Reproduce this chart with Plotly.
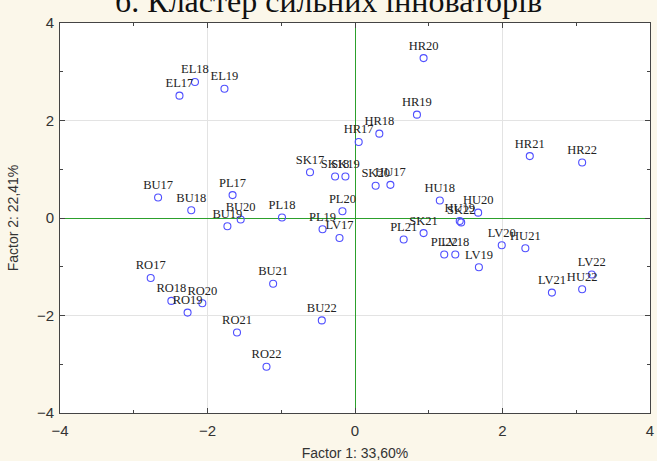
import plotly.graph_objects as go

labels = ["EL17", "EL18", "EL19", "HR17", "HR18", "HR19", "HR20", "HR21", "HR22",
          "SK17", "SK18", "SK19", "SK20", "SK21", "SK22",
          "HU17", "HU18", "HU19", "HU20", "HU21", "HU22",
          "LV17", "LV18", "LV19", "LV20", "LV21", "LV22",
          "PL17", "PL18", "PL19", "PL20", "PL21", "PL22",
          "BU17", "BU18", "BU19", "BU20", "BU21", "BU22",
          "RO17", "RO18", "RO19", "RO20", "RO21", "RO22"]
factor1 = [-2.38, -2.17, -1.77, 0.05, 0.33, 0.84, 0.93, 2.37, 3.08,
           -0.61, -0.27, -0.13, 0.28, 0.93, 1.44,
           0.48, 1.15, 1.42, 1.67, 2.31, 3.08,
           -0.21, 1.36, 1.68, 1.99, 2.67, 3.21,
           -1.66, -0.99, -0.44, -0.17, 0.66, 1.21,
           -2.67, -2.22, -1.73, -1.55, -1.11, -0.45,
           -2.77, -2.49, -2.27, -2.07, -1.60, -1.20]
factor2 = [2.51, 2.79, 2.65, 1.56, 1.73, 2.12, 3.28, 1.27, 1.14,
           0.94, 0.85, 0.85, 0.66, -0.31, -0.09,
           0.68, 0.36, -0.06, 0.11, -0.62, -1.46,
           -0.41, -0.75, -1.01, -0.56, -1.53, -1.16,
           0.47, 0.01, -0.23, 0.14, -0.44, -0.75,
           0.42, 0.16, -0.17, -0.03, -1.35, -2.10,
           -1.23, -1.70, -1.94, -1.75, -2.35, -3.05]

title_text = "б. Кластер сильних інноваторів"
x_title = "Factor 1: 33,60%"
y_title = "Factor 2: 22,41%"

fig = go.Figure()
fig.add_trace(go.Scatter(
    x=factor1, y=factor2, text=labels, mode="markers+text",
    textposition="top center",
    textfont=dict(family="Liberation Serif, Times New Roman, serif", size=12.5, color="#222222"),
    marker=dict(symbol="circle-open", size=7, color="#4f4fff", line=dict(width=1.1)),
    showlegend=False, cliponaxis=False, hoverinfo="skip",
))

axis_common = dict(
    range=[-4, 4], dtick=2, tick0=0, automargin=False,
    ticks="inside", ticklen=5, tickcolor="#444444",
    showline=True, linecolor="#444444", linewidth=1, mirror="ticks",
    showgrid=True, gridcolor="#e3e3e3", gridwidth=1,
    zeroline=True, zerolinecolor="#2ca02c", zerolinewidth=1,
    tickfont=dict(family="Liberation Sans, Arial, sans-serif", size=15, color="#333333"),
    minor=dict(dtick=1, ticks="inside", ticklen=3, tickcolor="#444444", showgrid=False),
)

fig.update_xaxes(**axis_common, ticklabelstandoff=4,
                 title=dict(text=x_title, standoff=18,
                            font=dict(family="Liberation Sans, Arial, sans-serif", size=14, color="#333333")))
fig.update_yaxes(**axis_common, ticklabelstandoff=2,
                 title=dict(text=y_title, standoff=14,
                            font=dict(family="Liberation Sans, Arial, sans-serif", size=14, color="#333333")))

fig.add_annotation(
    text=title_text, xref="paper", yref="paper", x=0.455, y=1.056,
    xanchor="center", yanchor="middle", showarrow=False,
    font=dict(family="Liberation Serif, Times New Roman, serif", size=32, color="#111111"),
)

fig.update_layout(
    width=657, height=461,
    margin=dict(l=60, r=7, t=23, b=48),
    paper_bgcolor="#fbf7ea", plot_bgcolor="#ffffff",
)

fig.write_html(
    "out.html",
    config={"displayModeBar": False},
    post_script="document.body.style.margin='0';document.body.style.background='#fbf7ea';",
)
